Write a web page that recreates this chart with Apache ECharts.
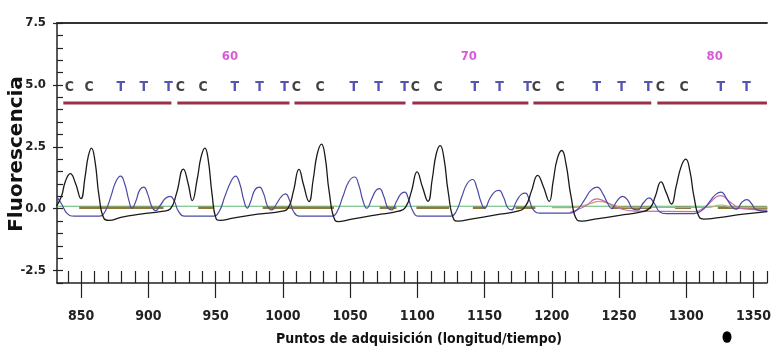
<!DOCTYPE html>
<html>
<head>
<meta charset="utf-8">
<script src="https://cdn.jsdelivr.net/npm/echarts@6/dist/echarts.min.js"></script>
<style>
html,body{margin:0;padding:0;background:#fff;}
#chart{width:774px;height:349px;}
</style>
</head>
<body>
<div id="chart"></div>
<script>
//ejes
var xMajorTicks = [850,900,950,1000,1050,1100,1150,1200,1250,1300,1350];
var xMinorTicks = [840,850,860,870,880,890,900,910,920,930,940,950,960,970,980,990,1000,1010,1020,1030,1040,1050,1060,1070,1080,1090,1100,1110,1120,1130,1140,1150,1160,1170,1180,1190,1200,1210,1220,1230,1240,1250,1260,1270,1280,1290,1300,1310,1320,1330,1340,1350,1360];
var yMajorTicks = [-2.5,0,2.5,5,7.5];
var yMinorTicks = [-3,-2.5,-2,-1.5,-1,-0.5,0,0.5,1,1.5,2,2.5,3,3.5,4,4.5,5,5.5,6,6.5,7,7.5];

//secuencia de bases
var baseLetters = ['C','C','T','T','T','C','C','T','T','T','C','C','T','T','T','C','C','T','T','T','C','C','T','T','T','C','C','T','T'];
var basePos = [841.2,855.9,879.5,896.5,914.9,923.7,940.7,964.3,982.7,1001.2,1010,1027.7,1052.8,1071.2,1090.4,1098.5,1115.5,1142.8,1161.2,1181.9,1188.5,1206.2,1233.5,1251.9,1271.8,1280.7,1298.4,1325.7,1344.8];
var numLabels = ['60','70','80'];
var numPos = [960.6,1138.3,1321.2];
var ulStart = [836.7,921.5,1008.6,1096.3,1186.3,1278.5];
var ulEnd = [917.1,1004.9,1091.2,1182.6,1274.0,1360];

//señales (C negro, T azul)
var traceC = [[831.6,0.1],[835.3,0.5],[838.2,1.1],[841.9,1.42],[845.6,1.05],[849.8,0.41],[852.9,1.3],[855.2,2.1],[857.6,2.45],[860.3,1.9],[863.3,0.5],[867,-0.4],[870.6,-0.47],[879.5,-0.35],[894.2,-0.22],[911.2,-0.1],[916.4,0.0],[920.8,0.6],[926,1.6],[929.6,1.0],[932.6,0.33],[936.3,1.2],[939.2,2.1],[942,2.45],[944.4,2.0],[947.3,0.6],[950.3,-0.4],[953.2,-0.47],[962.8,-0.38],[981.3,-0.22],[999.7,-0.1],[1004.1,0.05],[1007.8,0.7],[1012,1.59],[1015.2,1.0],[1019.4,0.29],[1022.6,1.2],[1025.5,2.2],[1028.7,2.61],[1031.4,2.1],[1034.4,0.7],[1038.8,-0.47],[1041.7,-0.52],[1051.3,-0.42],[1069.8,-0.25],[1086,-0.1],[1091.2,0.05],[1095.6,0.7],[1099.8,1.49],[1103.7,0.9],[1107.9,0.3],[1111.1,1.2],[1114,2.2],[1117,2.55],[1119.9,2.0],[1122.9,0.7],[1127.3,-0.45],[1130.2,-0.5],[1139.8,-0.42],[1158.3,-0.25],[1174.5,-0.1],[1180.4,0.1],[1184.8,0.7],[1189.5,1.35],[1193.7,0.9],[1198.1,0.3],[1201,1.1],[1204,2.0],[1207.4,2.35],[1210.6,1.8],[1214.3,0.5],[1218.9,-0.46],[1222.4,-0.5],[1232,-0.42],[1250.4,-0.27],[1267.4,-0.12],[1273.3,0.05],[1277,0.5],[1281.2,1.08],[1285.1,0.65],[1289,0.19],[1292.5,0.9],[1296.2,1.7],[1299.6,2.0],[1302.8,1.5],[1305.7,0.5],[1309.9,-0.36],[1313.1,-0.42],[1324.2,-0.36],[1342.6,-0.22],[1360.3,-0.12]];
var traceT = [[831.6,0.5],[835.3,0.2],[839.7,-0.2],[844.8,-0.3],[863.3,-0.3],[867.7,-0.12],[872.1,0.5],[875.8,1.1],[879.3,1.32],[882.4,1.0],[885.4,0.35],[887.8,0.02],[890.6,0.3],[893.5,0.75],[896.5,0.87],[899.4,0.6],[902.4,0.1],[905.3,-0.08],[909,0.15],[912.7,0.42],[916.2,0.5],[919.3,0.3],[922.3,-0.1],[926.7,-0.3],[948.1,-0.3],[952.5,-0.12],[956.9,0.5],[961.4,1.1],[964.8,1.32],[968,1.0],[970.9,0.35],[973.5,0.02],[976.1,0.3],[979.1,0.75],[982.5,0.87],[985.7,0.6],[988.6,0.1],[991.6,-0.05],[995.3,0.2],[999,0.5],[1001.9,0.6],[1004.9,0.35],[1007.8,-0.1],[1012.2,-0.3],[1036.6,-0.3],[1040.3,-0.12],[1044.7,0.5],[1049.1,1.1],[1053.3,1.28],[1056.5,0.95],[1059.4,0.35],[1062.4,0.02],[1066.1,0.4],[1069,0.72],[1071.8,0.81],[1075,0.5],[1077.9,0.05],[1080.8,-0.05],[1084.5,0.3],[1087.8,0.6],[1090.6,0.67],[1093.4,0.4],[1096.3,-0.05],[1100.7,-0.3],[1125,-0.3],[1128.8,-0.12],[1133.2,0.5],[1136.9,1.0],[1141.1,1.18],[1144.2,0.85],[1147.2,0.3],[1150.1,0.02],[1153.8,0.4],[1157.5,0.68],[1160.7,0.74],[1164.2,0.45],[1167.1,0.05],[1170.1,-0.05],[1173.7,0.3],[1177.4,0.58],[1180.4,0.63],[1183.3,0.35],[1186.3,-0.05],[1191.4,-0.18],[1213.6,-0.18],[1219.6,0],[1224.8,0.4],[1229.2,0.75],[1233.7,0.87],[1238,0.6],[1241.7,0.2],[1244.6,0.0],[1248.3,0.3],[1252.7,0.5],[1256.4,0.35],[1260.1,0.0],[1263.8,-0.05],[1268.3,0.25],[1272.4,0.44],[1276.4,0.2],[1280.1,-0.12],[1285.2,-0.2],[1305.9,-0.2],[1313.1,0.0],[1318.3,0.35],[1322,0.58],[1325.9,0.67],[1330.1,0.4],[1334.5,0.05],[1337.5,-0.02],[1341.2,0.25],[1345.1,0.37],[1348.6,0.2],[1352.3,-0.05],[1360.3,-0.1]];
var traceA = [[1213.6,-0.15],[1224.8,0.1],[1233.6,0.4],[1241,0.25],[1248.3,0.05],[1261.5,-0.1],[1305.9,-0.12],[1314.6,0.1],[1325.7,0.53],[1333.1,0.25],[1341.2,0.0],[1360.3,-0.05]];
var traceTan = [[1200,0.04],[1213.6,0.04],[1228.5,0.2],[1235,0.3],[1243,0.2],[1254,0.05],[1316,0.05],[1325.7,0.15],[1335,0.05],[1360.3,0.04]];
var traceG = [[848.5,0.04],[911.2,0.04],[911.2,null],[937,0.04],[948,0.04],[948,null],[985,0.04],[1038,0.04],[1038,null],[1072,0.04],[1084.5,0.04],[1084.5,null],[1099.3,0.04],[1123.6,0.04],[1123.6,null],[1141.3,0.04],[1150.9,0.04],[1150.9,null],[1173,0.04],[1187.8,0.04],[1187.8,null],[1244.5,0.04],[1274,0.04],[1274,null],[1291.7,0.04],[1303.5,0.04],[1303.5,null],[1323.5,0.04],[1360.3,0.04]];
var traceBase = [[832,0.1],[1360,0.1]];

var narrow = "'Liberation Sans Narrow','Arial Narrow','DejaVu Sans Condensed',sans-serif";

//armar letras y subrayados
var letterData = [];
for(var i = 0; i < baseLetters.length; i++){
	letterData.push({
		value: [basePos[i], 4.92],
		name: baseLetters[i],
		label: {color: baseLetters[i] == 'C' ? '#111111' : '#2b2b9e'}
	});
}
var numData = [];
for(var i = 0; i < numLabels.length; i++){
	numData.push({value: [numPos[i], 6.13], name: numLabels[i]});
}
var ulData = [];
for(var i = 0; i < ulStart.length; i++){
	ulData.push([ulStart[i], 4.27]);
	ulData.push([ulEnd[i], 4.27]);
	ulData.push([ulEnd[i], null]);
}

var chart = echarts.init(document.getElementById('chart'));
var axisX = function(){
	return {
		type: 'value', min: 832, max: 1360, gridIndex: 0,
		splitLine: {show: false}
	};
};
var xa0 = axisX();
xa0.position = 'bottom';
xa0.axisLine = {show: true, onZero: false, lineStyle: {color: '#222', width: 1.5}};
xa0.axisTick = {show: true, inside: false, length: 15, customValues: xMajorTicks, lineStyle: {color: '#222', width: 1.2}};
xa0.axisLabel = {show: true, margin: 26, customValues: xMajorTicks, color: '#222', fontFamily: narrow, fontWeight: 'bold', fontSize: 14,
	formatter: function(v){ return String(v); }};
var xa1 = axisX();
xa1.position = 'bottom';
xa1.axisLine = {show: false, onZero: false};
xa1.axisTick = {show: true, inside: true, length: 12, customValues: xMinorTicks, lineStyle: {color: '#222', width: 1.2}};
xa1.axisLabel = {show: false};
var xa2 = axisX();
xa2.position = 'top';
xa2.axisLine = {show: true, onZero: false, lineStyle: {color: '#333', width: 2}};
xa2.axisTick = {show: false};
xa2.axisLabel = {show: false};

var option = {
	animation: false,
	backgroundColor: '#ffffff',
	grid: {left: 57, right: 0, top: 23, bottom: 66},
	xAxis: [xa0, xa1, xa2],
	yAxis: [{
		type: 'value', min: -3, max: 7.5, position: 'left',
		splitLine: {show: false},
		axisLine: {show: true, onZero: false, lineStyle: {color: '#222', width: 1.5}},
		axisTick: {show: true, inside: false, length: 4, customValues: yMajorTicks, lineStyle: {color: '#222', width: 1.2}},
		axisLabel: {show: true, margin: 11, customValues: yMajorTicks, color: '#222', fontFamily: narrow, fontWeight: 'bold', fontSize: 13,
			formatter: function(v){ return Number(v).toFixed(1); }}
	}, {
		type: 'value', min: -3, max: 7.5, position: 'left',
		splitLine: {show: false},
		axisLine: {show: false, onZero: false},
		axisTick: {show: true, inside: true, length: 6, customValues: yMinorTicks, lineStyle: {color: '#222', width: 1.2}},
		axisLabel: {show: false}
	}],
	graphic: [{
		type: 'text', x: 17, y: 154, rotation: Math.PI / 2,
		style: {text: 'Fluorescencia', fill: '#111', font: "bold 20px 'DejaVu Sans',sans-serif", align: 'center', verticalAlign: 'middle'}
	}, {
		type: 'text', x: 419, y: 339,
		style: {text: 'Puntos de adquisición (longitud/tiempo)', fill: '#111', font: "bold 14px 'DejaVu Sans Condensed','DejaVu Sans',sans-serif", align: 'center', verticalAlign: 'middle'}
	}, {
		type: 'circle', x: 727, y: 337, scaleY: 1.3,
		shape: {cx: 0, cy: 0, r: 4.5},
		style: {fill: '#000'}
	}],
	series: [{
		name: 'base', type: 'line', data: traceBase, symbol: 'none',
		lineStyle: {color: '#5cb872', width: 1}
	}, {
		name: 'G', type: 'line', data: traceG, symbol: 'none', connectNulls: false,
		lineStyle: {color: '#8c7a40', width: 2.5}
	}, {
		name: 'tan', type: 'line', data: traceTan, symbol: 'none', smooth: 0.5,
		lineStyle: {color: '#c9a36a', width: 1.2}
	}, {
		name: 'A', type: 'line', data: traceA, symbol: 'none', smooth: 0.5,
		lineStyle: {color: '#c46fae', width: 1.2}
	}, {
		name: 'T', type: 'line', data: traceT, symbol: 'none', smooth: 0.5,
		lineStyle: {color: '#4a4aa4', width: 1.2}
	}, {
		name: 'C', type: 'line', data: traceC, symbol: 'none', smooth: 0.5,
		lineStyle: {color: '#1a1a1a', width: 1.3}
	}, {
		name: 'subrayado', type: 'line', data: ulData, symbol: 'none', connectNulls: false,
		lineStyle: {color: '#9a2f4c', width: 3}
	}, {
		name: 'letras', type: 'scatter', data: letterData, symbolSize: 0,
		label: {show: true, position: 'inside', formatter: '{b}', fontFamily: narrow, fontWeight: 'bold', fontSize: 14}
	}, {
		name: 'numeros', type: 'scatter', data: numData, symbolSize: 0,
		label: {show: true, position: 'inside', formatter: '{b}', color: '#d22ed2', fontFamily: narrow, fontWeight: 'bold', fontSize: 13}
	}]
};
chart.setOption(option);
</script>
</body>
</html>
